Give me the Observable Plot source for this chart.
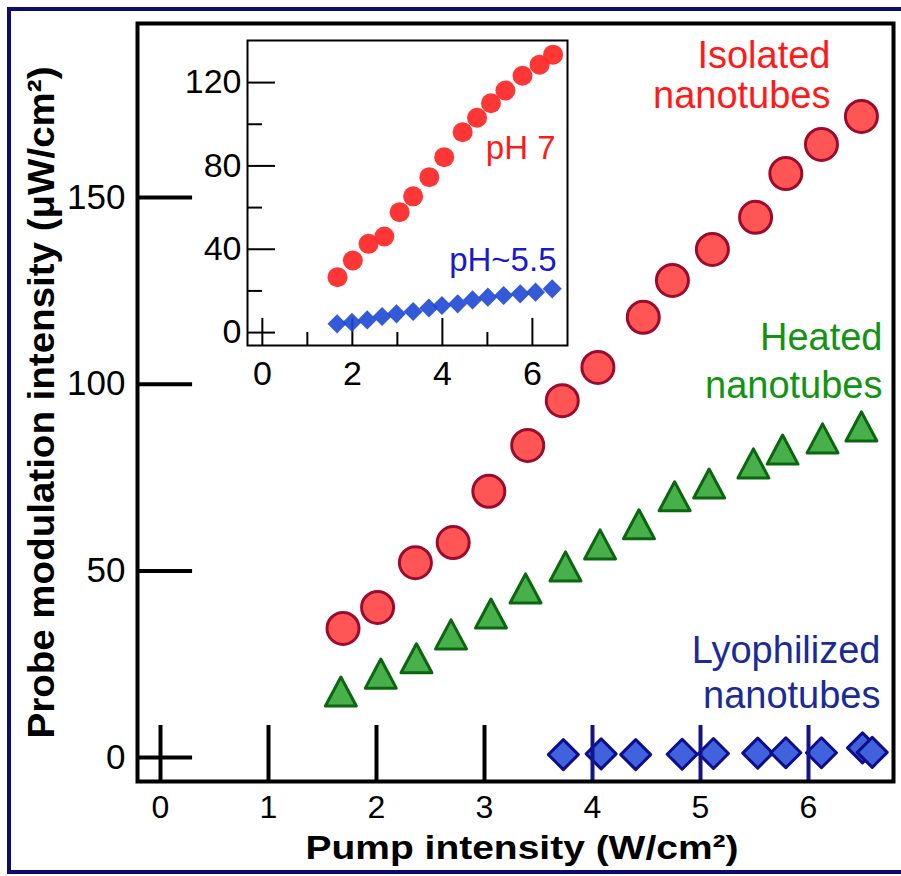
<!DOCTYPE html>
<html>
<head>
<meta charset="utf-8">
<script src="https://cdn.jsdelivr.net/npm/d3@7"></script>
<script src="https://cdn.jsdelivr.net/npm/@observablehq/plot@0.6"></script>
<style>
  html, body { margin: 0; padding: 0; background: #fff; }
  #wrap { position: relative; width: 901px; height: 876px; overflow: hidden; background: #fff; }
  #main, #inset { position: absolute; }
  #main { left: 0; top: 0; }
  #inset { left: 170px; top: 30px; }
  #border { position: absolute; left: 7px; top: 7px; width: 1000px; height: 867px; box-sizing: border-box;
            border: 4px solid #0c0c6e; pointer-events: none; }
</style>
</head>
<body>
<div id="wrap">
  <div id="main"></div>
  <div id="inset"></div>
  <div id="border"></div>
</div>
<script>
// ---------- main chart data ----------
const xTicks = [0, 1, 2, 3, 4, 5, 6];
const yTicks = [0, 50, 100, 150];

const isoX = [1.69, 2.01, 2.36, 2.71, 3.04, 3.40, 3.72, 4.05, 4.47, 4.74, 5.11, 5.51, 5.79, 6.12, 6.49];
const isoY = [34.6, 40.2, 52.2, 57.6, 71.3, 83.6, 95.6, 104.5, 117.9, 127.8, 136.1, 144.7, 156.4, 164.2, 171.7];

const heatX = [1.67, 2.04, 2.37, 2.69, 3.06, 3.38, 3.75, 4.07, 4.43, 4.76, 5.08, 5.49, 5.76, 6.13, 6.49];
const heatY = [16.4, 21.2, 25.3, 31.7, 37.3, 44.0, 49.9, 55.8, 61.2, 68.7, 72.1, 77.5, 81.2, 84.2, 87.4];

const lyoX = [3.73, 4.08, 4.40, 4.83, 5.12, 5.53, 5.79, 6.12, 6.50, 6.59];
const lyoY = [0.8, 1.0, 0.8, 0.9, 1.1, 1.2, 1.3, 1.3, 2.6, 1.4];

// ---------- inset data ----------
const insetXTicks = [0, 2, 4, 6];
const insetXMinor = [1, 3, 5];
const insetYTicks = [0, 40, 80, 120];
const insetYMinor = [20, 60, 100];

const ph7X = [1.67, 2.01, 2.36, 2.71, 3.05, 3.35, 3.71, 4.04, 4.45, 4.77, 5.08, 5.40, 5.78, 6.16, 6.46];
const ph7Y = [26.6, 34.6, 42.6, 46.1, 57.8, 65.4, 74.6, 84.2, 96.2, 103.1, 110.1, 116.2, 123.3, 128.6, 133.4];

const ph55X = [1.66, 1.99, 2.33, 2.66, 2.98, 3.35, 3.70, 3.99, 4.34, 4.67, 5.01, 5.36, 5.73, 6.07, 6.44];
const ph55Y = [4.2, 4.9, 6.1, 7.7, 9.0, 10.1, 11.8, 13.0, 13.8, 15.7, 17.0, 17.8, 18.6, 19.4, 21.0];

// ---------- text ----------
const xLabel = "Pump intensity (W/cm²)";
const yLabel = "Probe modulation intensity (μW/cm²)";
const isoLabel = "Isolated\nnanotubes";
const heatLabel = "Heated\nnanotubes";
const lyoLabel = "Lyophilized\nnanotubes";
const ph7Label = "pH 7";
const ph55Label = "pH~5.5";

const FONT = "'Liberation Sans', Arial, Helvetica, sans-serif";

// tall triangle symbol (centroid-centred)
const tallTriangle = {
  draw(ctx, size) {
    const r = Math.sqrt(size / Math.PI);
    const w = 1.19 * r, top = -1.49 * r, bot = 0.745 * r;
    ctx.moveTo(0, top);
    ctx.lineTo(w, bot);
    ctx.lineTo(-w, bot);
    ctx.closePath();
  }
};

const xDom = [-0.213, 6.787];
const yDom = [-6.4, 196.6];
const navy = "#14148a";

const main = Plot.plot({
  width: 901, height: 876,
  marginLeft: 137, marginRight: 8, marginTop: 23, marginBottom: 95,
  x: {domain: xDom, axis: null},
  y: {domain: yDom, axis: null},
  style: {fontFamily: FONT, background: "transparent", color: "black"},
  marks: [
    Plot.ruleY(yTicks, {y: d => d, x1: xDom[0], x2: xDom[0] + 0.51, stroke: "black", strokeWidth: 4}),
    Plot.ruleX(xTicks.filter(d => d < 4), {x: d => d, y1: yDom[0], y2: yDom[0] + 15, stroke: "black", strokeWidth: 4}),
    Plot.dot(isoX, {x: isoX, y: isoY, r: 16, fill: "#ff5555", stroke: "#9c0b2b", strokeWidth: 3}),
    Plot.dot(heatX, {x: heatX, y: heatY, r: 13, symbol: tallTriangle, fill: "#47b04b", stroke: "#0b660f", strokeWidth: 3, strokeLinejoin: "round"}),
    Plot.dot(lyoX, {x: lyoX, y: lyoY, r: 13.5, symbol: "diamond2", fill: "#4062dc", stroke: "#0e0e8c", strokeWidth: 3, strokeLinejoin: "round"}),
    Plot.ruleX(xTicks.filter(d => d >= 4), {x: d => d, y1: yDom[0], y2: yDom[0] + 15, stroke: navy, strokeWidth: 4}),
    Plot.frame({stroke: "black", strokeWidth: 4}),
    Plot.text(yTicks, {x: xDom[0], y: d => d, text: d => String(d), textAnchor: "end", dx: -12, fontSize: 35}),
    Plot.text(xTicks, {x: d => d, y: yDom[0], text: d => String(d), lineAnchor: "top", dy: 14, fontSize: 32}),
    Plot.text([xLabel], {frameAnchor: "bottom", textAnchor: "middle", lineAnchor: "bottom", dy: 77, dx: 6.5, fontSize: 33, fontWeight: "bold"}),
    Plot.text([yLabel], {frameAnchor: "left", textAnchor: "middle", rotate: -90, lineAnchor: "bottom", dx: -84, fontSize: 37, fontWeight: "bold"}),
    Plot.text([isoLabel], {frameAnchor: "top-right", textAnchor: "end", lineAnchor: "bottom", dx: -63, dy: 84, lineHeight: 1.05, fontSize: 38, fill: "#ff1a1a"}),
    Plot.text([heatLabel], {frameAnchor: "top-right", textAnchor: "end", lineAnchor: "bottom", dx: -11, dy: 374, lineHeight: 1.24, fontSize: 38, fill: "#129412"}),
    Plot.text([lyoLabel], {frameAnchor: "top-right", textAnchor: "end", lineAnchor: "bottom", dx: -13, dy: 684, lineHeight: 1.18, fontSize: 38, fill: "#1b2a99"})
  ]
});

const ixDom = [-0.33, 6.78];
const iyDom = [-6.2, 140.2];

const inset = Plot.plot({
  width: 410, height: 370,
  marginLeft: 77, marginRight: 13, marginTop: 10, marginBottom: 55,
  x: {domain: ixDom, axis: null},
  y: {domain: iyDom, axis: null},
  style: {fontFamily: FONT, background: "transparent", color: "black"},
  marks: [
    Plot.ruleY(insetYTicks, {y: d => d, x1: ixDom[0], x2: ixDom[0] + 0.622, stroke: "black", strokeWidth: 2}),
    Plot.ruleY(insetYMinor, {y: d => d, x1: ixDom[0], x2: ixDom[0] + 0.333, stroke: "black", strokeWidth: 2}),
    Plot.ruleX(insetXTicks, {x: d => d, y1: iyDom[0], y2: iyDom[0] + 13, stroke: "black", strokeWidth: 2}),
    Plot.ruleX(insetXMinor, {x: d => d, y1: iyDom[0], y2: iyDom[0] + 6.24, stroke: "black", strokeWidth: 2}),
    Plot.dot(ph7X, {x: ph7X, y: ph7Y, r: 10, fill: "#ff2b2b", fillOpacity: 0.95}),
    Plot.dot(ph55X, {x: ph55X, y: ph55Y, r: 8.6, symbol: "diamond2", fill: "#1f48d4", fillOpacity: 0.9}),
    Plot.frame({stroke: "black", strokeWidth: 2}),
    Plot.text(insetYTicks, {x: ixDom[0], y: d => d, text: d => String(d), textAnchor: "end", dx: -6, fontSize: 34}),
    Plot.text(insetXTicks, {x: d => d, y: iyDom[0], text: d => String(d), lineAnchor: "top", dy: 15, fontSize: 34}),
    Plot.text([ph7Label], {frameAnchor: "top-right", textAnchor: "end", lineAnchor: "bottom", dx: -12, dy: 118, fontSize: 33, fill: "#ff1a1a"}),
    Plot.text([ph55Label], {frameAnchor: "top-right", textAnchor: "end", lineAnchor: "bottom", dx: -11, dy: 230, fontSize: 33, fill: "#1a1acc"})
  ]
});

document.getElementById("main").appendChild(main);
document.getElementById("inset").appendChild(inset);

// stretch axis titles to the measured lengths of the reference
d3.select(main).selectAll("text")
  .filter(function() { return this.textContent === xLabel; })
  .attr("textLength", 433).attr("lengthAdjust", "spacingAndGlyphs");
d3.select(main).selectAll("text")
  .filter(function() { return this.textContent === yLabel; })
  .attr("textLength", 672).attr("lengthAdjust", "spacingAndGlyphs");
</script>
</body>
</html>
